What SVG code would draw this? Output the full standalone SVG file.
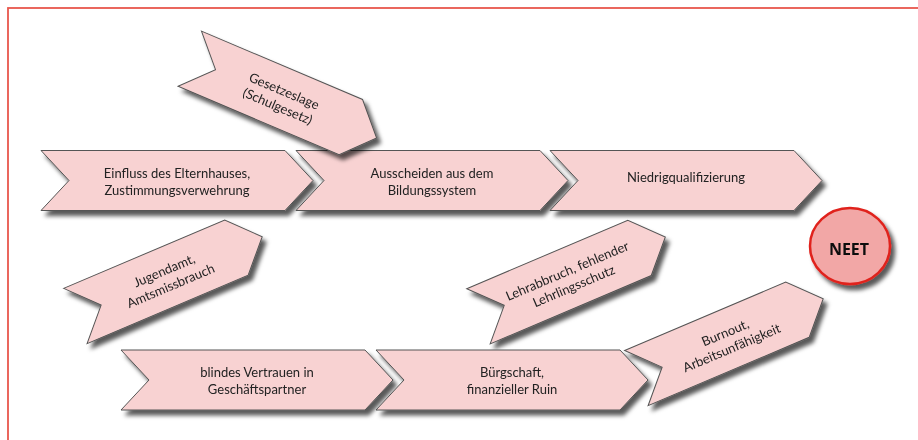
<svg xmlns="http://www.w3.org/2000/svg" xmlns:xlink="http://www.w3.org/1999/xlink" width="918" height="440" viewBox="0 0 918 440">
<style>
.ch{fill:#f8d2d2;stroke:#555;stroke-width:1}
.t{font-family:Lato,"Liberation Sans",sans-serif;font-size:13px;fill:#222;text-anchor:middle}
.neet{font-family:"Open Sans","Liberation Sans",sans-serif;font-size:16px;font-weight:bold;fill:#111;text-anchor:middle}
</style>
<defs>
<filter id="sh" x="-20%" y="-30%" width="140%" height="160%">
<feDropShadow dx="4" dy="5" stdDeviation="2.2" flood-color="#000" flood-opacity="0.65"/>
</filter>
<path id="big" d="M0,0 H244 L272,30 L244,60 H0 L28,30 Z"/>
<path id="small" d="M-87.5,-30 H87.5 L115.5,0 L87.5,30 H-87.5 L-59.5,0 Z"/>
</defs>
<rect x="8" y="8" width="930" height="450" fill="none" stroke="#e8574d" stroke-width="1.8"/>
<g id="connectors"></g>
<g id="einfluss" filter="url(#sh)">
<use xlink:href="#big" class="ch" x="41" y="150.5"/>
<text class="t" x="177" y="177.5">Einfluss des Elternhauses,</text>
<text class="t" x="177" y="194.5">Zustimmungsverwehrung</text>
</g>
<g id="ausscheiden" filter="url(#sh)">
<use xlink:href="#big" class="ch" x="296" y="150.5"/>
<text class="t" x="432" y="177.5">Ausscheiden aus dem</text>
<text class="t" x="432" y="194.5">Bildungssystem</text>
</g>
<g id="niedrig" filter="url(#sh)">
<use xlink:href="#big" class="ch" x="550" y="150.5"/>
<text class="t" x="686" y="182">Niedrigqualifizierung</text>
</g>
<g id="gesetzeslage" filter="url(#sh)">
<g transform="translate(270.3,92.9) rotate(23)">
<use xlink:href="#small" class="ch"/>
<text class="t" x="12" y="-2.5">Gesetzeslage</text>
<text class="t" x="12" y="14">(Schulgesetz)</text>
</g>
</g>
<g id="jugendamt" filter="url(#sh)">
<g transform="translate(155.9,281.8) rotate(-23)">
<use xlink:href="#small" class="ch"/>
<text class="t" x="12" y="-2.5">Jugendamt,</text>
<text class="t" x="12" y="14">Amtsmissbrauch</text>
</g>
</g>
<g id="lehrabbruch" filter="url(#sh)">
<g transform="translate(559,282.1) rotate(-23)">
<use xlink:href="#small" class="ch"/>
<text class="t" x="12" y="-2.5">Lehrabbruch, fehlender</text>
<text class="t" x="12" y="14">Lehrlingsschutz</text>
</g>
</g>
<g id="burnout" filter="url(#sh)">
<g transform="translate(716.9,343.9) rotate(-23)">
<use xlink:href="#small" class="ch"/>
<text class="t" x="12" y="-2.5">Burnout,</text>
<text class="t" x="12" y="14">Arbeitsunfähigkeit</text>
</g>
</g>
<g id="vertrauen" filter="url(#sh)">
<use xlink:href="#big" class="ch" x="121" y="350"/>
<text class="t" x="257" y="377">blindes Vertrauen in</text>
<text class="t" x="257" y="394">Geschäftspartner</text>
</g>
<g id="buergschaft" filter="url(#sh)">
<use xlink:href="#big" class="ch" x="376" y="350"/>
<text class="t" x="512" y="377">Bürgschaft,</text>
<text class="t" x="512" y="394">finanzieller Ruin</text>
</g>
<g id="neet" filter="url(#sh)">
<ellipse cx="850" cy="246" rx="40" ry="38" fill="#f2a7a6" stroke="#e0231d" stroke-width="2.5"/>
<text class="neet" x="849" y="255">NEET</text>
</g>
</svg>
